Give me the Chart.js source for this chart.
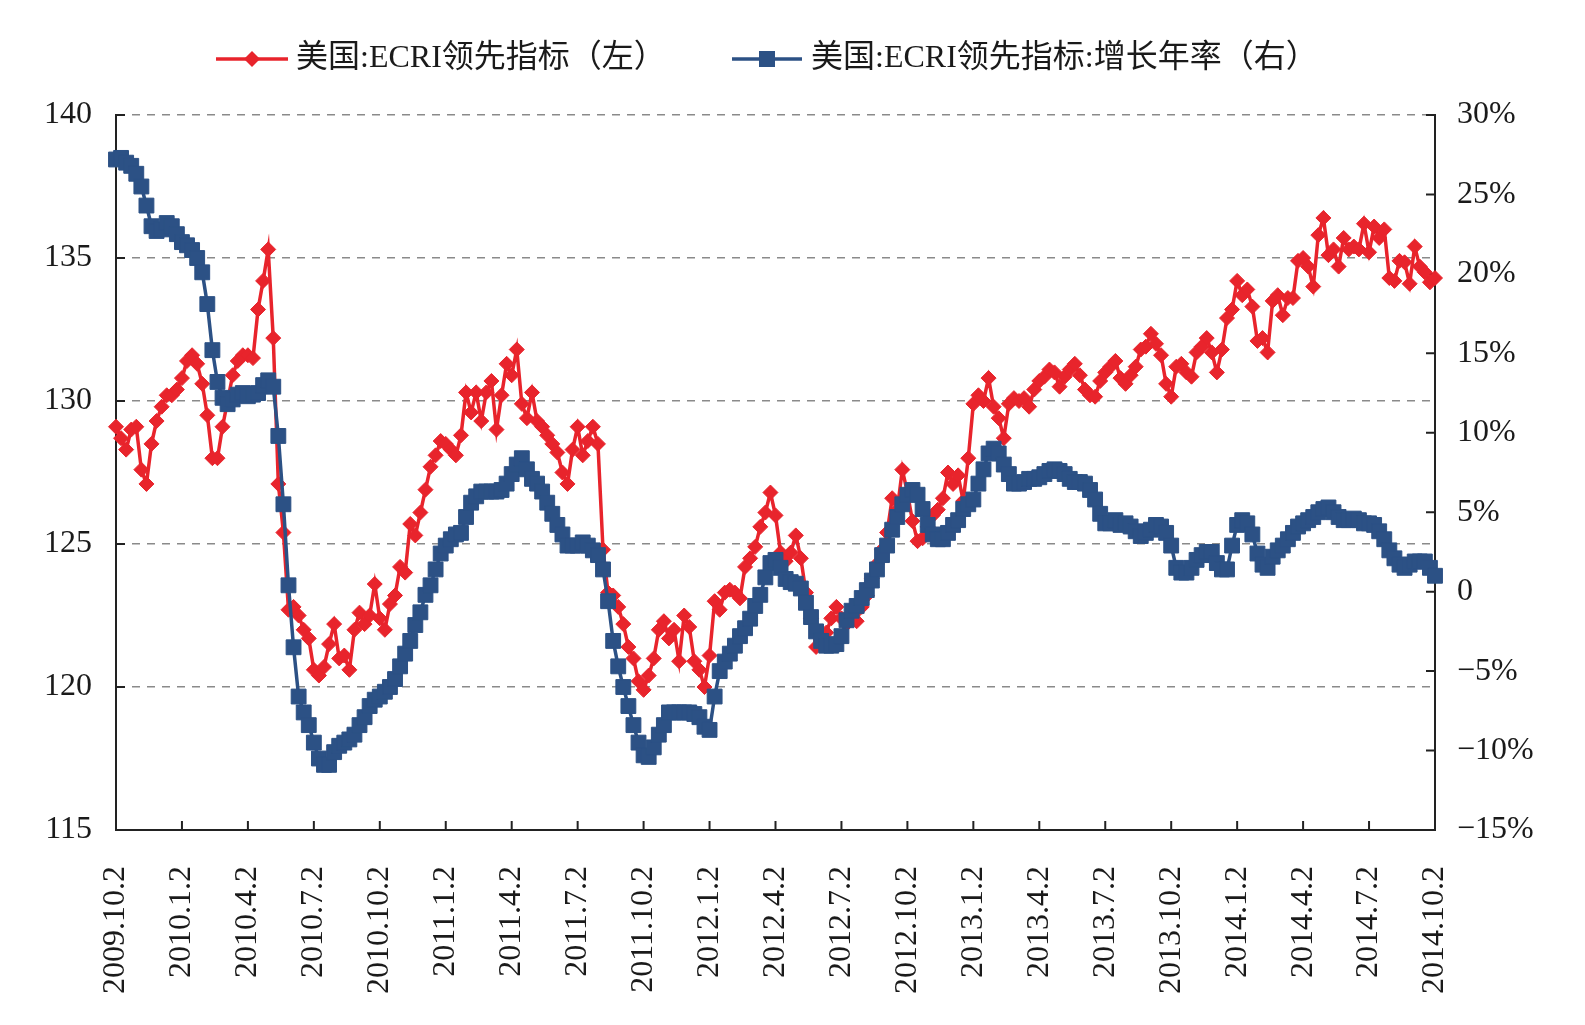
<!DOCTYPE html>
<html lang="zh-CN">
<head>
  <meta charset="UTF-8">
  <title>美国ECRI领先指标</title>
  <script src="https://cdn.jsdelivr.net/npm/chart.js"></script>
  <style>
    html, body { margin: 0; padding: 0; background: #fff; }
  </style>
</head>
<body>
  <canvas id="ecriChart" width="1585" height="1025"></canvas>

  <script>
    // quarterly tick labels, one every 13 weeks
    const quarterLabels = [
      '2009.10.2', '2010.1.2', '2010.4.2', '2010.7.2', '2010.10.2', '2011.1.2', '2011.4.2',
      '2011.7.2', '2011.10.2', '2012.1.2', '2012.4.2', '2012.7.2', '2012.10.2', '2013.1.2',
      '2013.4.2', '2013.7.2', '2013.10.2', '2014.1.2', '2014.4.2', '2014.7.2', '2014.10.2'
    ];
    const weeksPerQuarter = 13;

    // weekly ECRI leading index (left axis)
    const ecri = [
      129.1, 128.7, 128.3, 129.0, 129.1, 127.6, 127.1, 128.5, 129.3, 129.8,
      130.2, 130.2, 130.4, 130.8, 131.4, 131.6, 131.3, 130.6, 129.5, 128.0,
      128.0, 129.1, 130.0, 130.9, 131.4, 131.6, 131.6, 131.5, 133.2, 134.2,
      135.3, 132.2, 127.1, 125.4, 122.7, 122.8, 122.5, 122.0, 121.7, 120.6,
      120.4, 120.7, 121.5, 122.2, 121.0, 121.1, 120.6, 122.0, 122.6, 122.2,
      122.5, 123.6, 122.4, 122.0, 122.9, 123.2, 124.2, 124.0, 125.7, 125.3,
      126.1, 126.9, 127.7, 128.1, 128.6, 128.5, 128.3, 128.1, 128.8, 130.3,
      129.6, 130.3, 129.3, 130.3, 130.7, 129.0, 130.2, 131.3, 130.9, 131.8,
      129.9, 129.4, 130.3, 129.3, 129.1, 128.8, 128.5, 128.2, 127.5, 127.1,
      128.3, 129.1, 128.1, 128.6, 129.1, 128.5, 124.8, 123.3, 123.2, 122.8,
      122.2, 121.4, 121.0, 120.2, 119.9, 120.4, 121.0, 122.0, 122.3, 121.7,
      122.0, 120.9, 122.5, 122.1, 120.9, 120.6, 120.0, 121.1, 123.0, 122.7,
      123.3, 123.4, 123.3, 123.1, 124.2, 124.5, 124.9, 125.6, 126.1, 126.8,
      126.0, 124.7, 124.4, 124.7, 125.3, 124.5, 123.3, 122.4, 121.4, 121.6,
      121.9, 122.4, 122.8, 122.4, 122.2, 122.6, 122.3, 122.8, 123.2, 123.8,
      124.3, 124.8, 125.4, 126.6, 126.2, 127.6, 126.8, 125.8, 125.1, 125.2,
      125.6, 126.0, 126.2, 126.6, 127.5, 127.1, 127.4, 126.5, 128.0, 129.9,
      130.2, 130.0, 130.8, 129.8, 129.4, 128.7, 129.9, 130.1, 130.0, 130.1,
      129.8, 130.4, 130.7, 130.85, 131.1, 131.0, 130.5, 130.85, 131.1, 131.3,
      130.9, 130.4, 130.2, 130.15, 130.7, 131.0, 131.2, 131.4, 130.8, 130.6,
      130.9, 131.2, 131.8, 131.9, 132.35, 132.0, 131.6, 130.6, 130.15, 131.2,
      131.3, 131.0, 130.85, 131.7, 131.9, 132.2, 131.7, 131.0, 131.8, 132.9,
      133.2, 134.2, 133.7, 133.9, 133.3, 132.1, 132.2, 131.7, 133.5, 133.7,
      133.0, 133.6, 133.6, 134.9, 135.0, 134.7, 134.0, 135.8, 136.4, 135.1,
      135.3, 134.7, 135.7, 135.3, 135.4, 135.3, 136.2, 135.2, 136.1, 135.7,
      136.0, 134.3, 134.2, 134.9, 134.85, 134.1, 135.4, 134.7, 134.5, 134.15, 134.3
    ];

    // weekly year-on-year growth, % (right axis)
    const growth = [
      27.2, 27.3, 27.0, 26.8, 26.3, 25.5, 24.3, 23.0, 22.7, 22.8,
      23.2, 23.0, 22.5, 22.0, 21.8, 21.5, 21.0, 20.1, 18.1, 15.2,
      13.2, 12.2, 11.8, 12.1, 12.4, 12.5, 12.3, 12.4, 12.5, 13.0,
      13.3, 12.9, 9.8, 5.5, 0.4, -3.5, -6.6, -7.6, -8.4, -9.5,
      -10.5, -10.9, -10.9, -10.1, -9.7, -9.5, -9.3, -9.0, -8.4, -7.9,
      -7.2, -6.8, -6.6, -6.3, -6.0, -5.5, -4.7, -3.9, -3.1, -2.1,
      -1.3, -0.2, 0.4, 1.4, 2.4, 2.9, 3.3, 3.6, 3.7, 4.7,
      5.6, 6.0, 6.3, 6.3, 6.3, 6.3, 6.4, 6.8, 7.4, 8.0,
      8.4, 7.7, 7.1, 6.8, 6.3, 5.6, 4.9, 4.2, 3.6, 2.9,
      2.9, 2.9, 3.1, 2.9, 2.6, 2.3, 1.4, -0.6, -3.1, -4.7,
      -6.0, -7.2, -8.4, -9.5, -10.3, -10.4, -9.8, -9.0, -8.4, -7.6,
      -7.6, -7.6, -7.6, -7.6, -7.7, -7.9, -8.5, -8.7, -6.6, -5.0,
      -4.4, -3.9, -3.4, -2.8, -2.3, -1.7, -0.9, -0.2, 0.9, 1.8,
      2.0, 1.5, 0.8, 0.6, 0.5, 0.2, -0.7, -1.6, -2.5, -3.1,
      -3.4, -3.4, -3.3, -2.8, -1.8, -1.2, -0.9, -0.4, 0.1, 0.7,
      1.4, 2.3, 2.9, 3.9, 4.7, 5.5, 6.1, 6.4, 6.1, 5.2,
      4.2, 3.6, 3.3, 3.3, 3.7, 4.2, 4.5, 5.2, 5.5, 5.8,
      6.8, 7.7, 8.7, 9.0, 8.7, 8.0, 7.4, 6.8, 6.8, 6.9,
      7.1, 7.1, 7.2, 7.4, 7.6, 7.7, 7.6, 7.4, 7.1, 6.9,
      6.9, 6.8, 6.4, 5.8, 4.9, 4.3, 4.3, 4.5, 4.2, 4.3,
      4.1, 3.8, 3.5, 3.7, 3.9, 4.2, 4.1, 3.7, 2.9, 1.5,
      1.2, 1.2, 1.5, 2.0, 2.3, 2.5, 2.5, 1.8, 1.4, 1.4,
      2.9, 4.2, 4.5, 4.3, 3.6, 2.4, 1.7, 1.5, 2.2, 2.6,
      2.9, 3.3, 3.7, 4.1, 4.3, 4.5, 4.7, 5.0, 5.2, 5.3,
      5.0, 4.7, 4.5, 4.5, 4.6, 4.5, 4.3, 4.3, 4.2, 3.8,
      3.3, 2.6, 2.1, 1.7, 1.5, 1.7, 1.9, 1.9, 1.9, 1.5, 1.0
    ];

    const RED = '#e8242c';
    const BLUE = '#2c5185';
    const AXIS = '#222';
    const SERIF = '"Liberation Serif", "Times New Roman", serif';

    Chart.defaults.font.family = SERIF;
    Chart.defaults.font.size = 32;
    Chart.defaults.color = '#1a1a1a';

    // small tick marks pointing into the plot on all three axes
    const innerTicks = {
      id: 'innerTicks',
      beforeDatasetsDraw(chart) {
        const { ctx, chartArea: a, scales } = chart;
        ctx.save();
        ctx.strokeStyle = AXIS;
        ctx.lineWidth = 2;
        ctx.beginPath();
        scales.y.ticks.forEach(t => {
          const y = scales.y.getPixelForValue(t.value);
          ctx.moveTo(a.left, y); ctx.lineTo(a.left + 9, y);
        });
        scales.y1.ticks.forEach(t => {
          const y = scales.y1.getPixelForValue(t.value);
          ctx.moveTo(a.right - 9, y); ctx.lineTo(a.right, y);
        });
        scales.x.ticks.forEach(t => {
          const x = scales.x.getPixelForValue(t.value);
          ctx.moveTo(x, a.bottom); ctx.lineTo(x, a.bottom - 9);
        });
        ctx.stroke();
        ctx.restore();
      }
    };

    // legend with a line + marker sample, like the original
    const lineLegend = {
      id: 'lineLegend',
      afterDraw(chart) {
        const ctx = chart.ctx;
        const items = [
          { x0: 216, x1: 288, tx: 296 },
          { x0: 732, x1: 802, tx: 811 }
        ];
        const y = 59;
        ctx.save();
        chart.data.datasets.forEach((ds, i) => {
          const it = items[i];
          const mx = (it.x0 + it.x1) / 2;
          ctx.strokeStyle = ds.borderColor;
          ctx.lineWidth = 3.5;
          ctx.beginPath();
          ctx.moveTo(it.x0, y); ctx.lineTo(it.x1, y);
          ctx.stroke();
          ctx.fillStyle = ds.borderColor;
          ctx.beginPath();
          if (ds.pointStyle === 'rect') {
            ctx.rect(mx - 8, y - 8, 16, 16);
          } else {
            ctx.moveTo(mx, y - 8); ctx.lineTo(mx + 8, y);
            ctx.lineTo(mx, y + 8); ctx.lineTo(mx - 8, y);
            ctx.closePath();
          }
          ctx.fill();
          ctx.fillStyle = '#1a1a1a';
          ctx.font = '32px "Liberation Serif", "Noto Sans CJK SC", serif';
          ctx.textBaseline = 'middle';
          ctx.textAlign = 'left';
          ctx.fillText(ds.label, it.tx, y);
        });
        ctx.restore();
      }
    };

    const pct = v => v === 0 ? '0' : (v < 0 ? '\u2212' + (-v) : v) + '%';

    new Chart(document.getElementById('ecriChart'), {
      type: 'line',
      data: {
        datasets: [
          {
            label: '美国:ECRI领先指标（左）',
            data: ecri.map((v, i) => ({ x: i, y: v })),
            yAxisID: 'y',
            borderColor: RED,
            backgroundColor: RED,
            borderWidth: 3.5,
            pointStyle: 'rectRot',
            pointRadius: 7.5,
            pointBorderWidth: 1,
            tension: 0,
            clip: false,
            order: 2
          },
          {
            label: '美国:ECRI领先指标:增长年率（右）',
            data: growth.map((v, i) => ({ x: i, y: v })),
            yAxisID: 'y1',
            borderColor: BLUE,
            backgroundColor: BLUE,
            borderWidth: 3.5,
            pointStyle: 'rect',
            pointRadius: 10.5,
            pointBorderWidth: 1,
            tension: 0,
            clip: false,
            order: 1
          }
        ]
      },
      options: {
        responsive: false,
        animation: false,
        events: [],
        layout: { padding: { top: 115, left: 0, right: 0, bottom: 0 } },
        plugins: {
          legend: { display: false },
          tooltip: { enabled: false }
        },
        scales: {
          x: {
            type: 'linear',
            min: 0,
            max: (quarterLabels.length - 1) * weeksPerQuarter,
            grid: { display: false },
            border: { display: true, color: AXIS, width: 2 },
            ticks: {
              stepSize: weeksPerQuarter,
              autoSkip: false,
              minRotation: 90,
              maxRotation: 90,
              padding: 28,
              callback: v => quarterLabels[Math.round(v / weeksPerQuarter)] ?? ''
            },
            afterFit: s => { s.height = 195; }
          },
          y: {
            position: 'left',
            min: 115,
            max: 140,
            ticks: { stepSize: 5, padding: 24 },
            grid: { color: '#8a8a8a', lineWidth: 1.5, drawTicks: false },
            border: { display: true, color: AXIS, width: 2, dash: [8, 7] },
            afterFit: s => { s.width = 116; }
          },
          y1: {
            position: 'right',
            min: -15,
            max: 30,
            ticks: { stepSize: 5, padding: 14, callback: pct },
            grid: { display: false },
            border: { display: true, color: AXIS, width: 2 },
            afterFit: s => { s.width = 150; }
          }
        }
      },
      plugins: [innerTicks, lineLegend]
    });
  </script>
</body>
</html>
